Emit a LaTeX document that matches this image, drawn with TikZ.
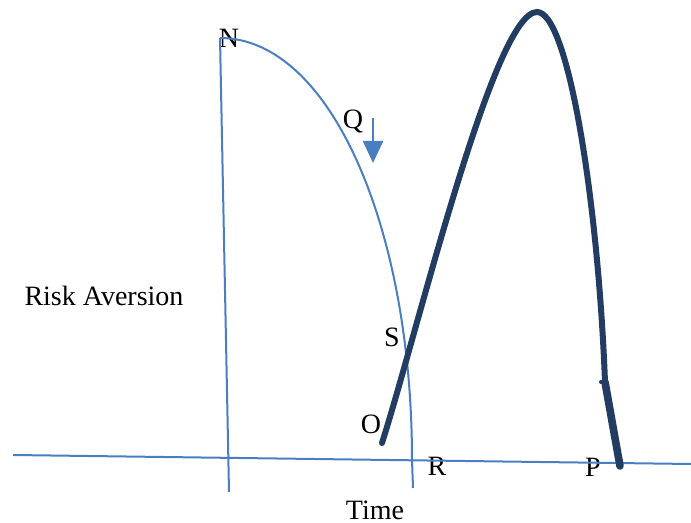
\documentclass[tikz,border=0pt]{standalone}
\usepackage{fontspec}
\setmainfont{Liberation Serif}
\usepackage{xcolor}
\usetikzlibrary{arrows.meta}
\definecolor{lineblue}{HTML}{4A7EC2}
\definecolor{curvenavy}{HTML}{233D62}

\begin{document}
\begin{tikzpicture}[x=0.5pt, y=-0.5pt,
    thinline/.style={draw=lineblue, line width=1pt},
    riskcurve/.style={draw=curvenavy, line width=3pt, line cap=round},
    lbl/.style={font=\fontsize{14}{16}\selectfont, inner sep=0pt},
    arrow/.style={draw=lineblue, line width=1.2pt, -{Triangle[length=11pt, width=10pt]}}
]
    \useasboundingbox (0,0) rectangle (691,523);

    \coordinate (axisL) at (13,455);
    \coordinate (axisR) at (691,464);
    \coordinate (ntop) at (220,38);
    \coordinate (nfoot) at (229,492);
    \coordinate (rbase) at (412,460);
    \coordinate (rfoot) at (413,488);
    \coordinate (qtop) at (373,118);
    \coordinate (qtip) at (373,163);
    \coordinate (ostart) at (382,443);
    \coordinate (peak) at (537,12);
    \coordinate (bend) at (605,382);
    \coordinate (pend) at (620,466);

    \node[lbl] (N) at (229,38) {N};
    \node[lbl] (Q) at (353,122) {Q};
    \node[lbl] (S) at (392,337) {S};
    \node[lbl] (O) at (371,424) {O};
    \node[lbl] (R) at (437,466) {R};
    \node[lbl] (P) at (593,467) {P};
    \node[lbl] (time) at (375,510) {Time};
    \node[lbl] (risk) at (104,296) {Risk Aversion};

    \draw[thinline] (axisL) -- (axisR);
    \draw[thinline] (ntop) -- (nfoot);
    \draw[thinline] (ntop) .. controls (330,38) and (412,227) .. (rbase) -- (rfoot);
    \draw[arrow] (qtop) -- (qtip);

    \draw[riskcurve] (ostart) .. controls (418,330) and (494,12) .. (peak)
        .. controls (568,12) and (598,200) .. (bend);
    \draw[riskcurve, line width=3.8pt] (bend) -- (pend);
    \draw[riskcurve, line width=2pt] (601,382) -- (bend);
\end{tikzpicture}
\end{document}
